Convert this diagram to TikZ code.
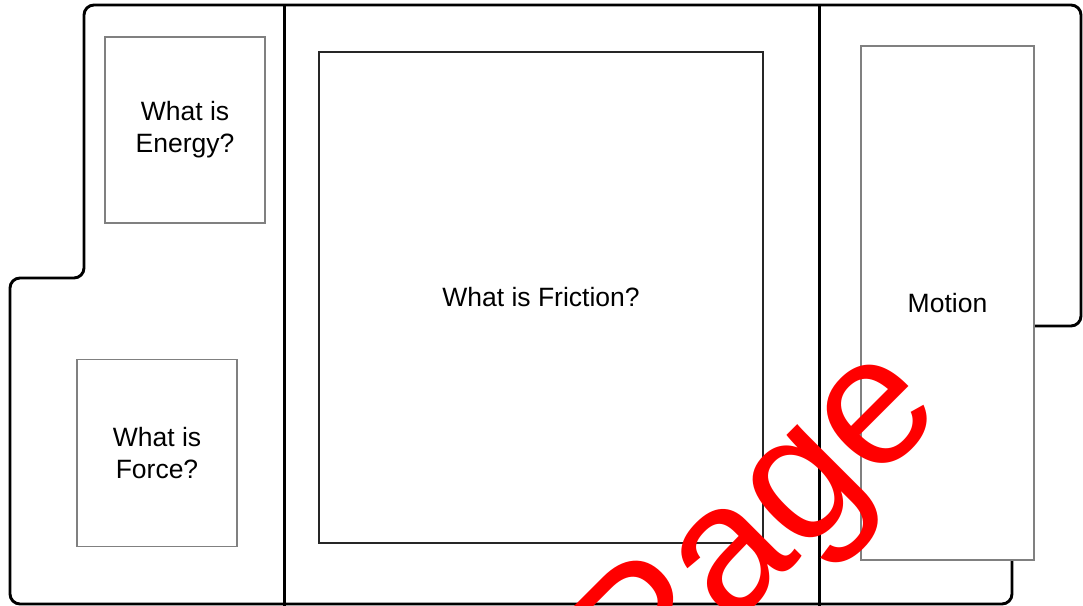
\documentclass[tikz,border=0pt]{standalone}
\usepackage{fontspec}
\setmainfont{Liberation Sans}
\begin{document}
\begin{tikzpicture}[x=1pt,y=-1pt,
  outline/.style={draw=black,line width=2.9pt,rounded corners=10pt},
  divider/.style={draw=black,line width=3pt},
  topicbox/.style={draw=black!50,line width=1.3pt,fill=white,inner sep=0pt,
    align=center,font=\fontsize{26.5}{32}\selectfont},
  bigbox/.style={draw=black!85,line width=1.1pt,fill=white,inner sep=0pt,
    align=center,font=\fontsize{26.5}{32}\selectfont},
  stamp/.style={text=red,inner sep=0pt,font=\fontsize{183}{183}\selectfont}]
\useasboundingbox (0,0) rectangle (1083,605);
\clip (0,0) rectangle (1083,605);
% outer outline
\draw[outline] (84,150) -- (84,5) -- (1081,5) -- (1081,326) -- (1012,326)
  -- (1012,604) -- (10,604) -- (10,278) -- (84,278) -- cycle;
% dividers
\coordinate (d1t) at (284,4);
\coordinate (d1b) at (284,606);
\coordinate (d2t) at (819,4);
\coordinate (d2b) at (819,606);
\draw[divider] (d1t) -- (d1b);
\draw[divider] (d2t) -- (d2b);
% boxes
\node[topicbox,minimum width=160pt,minimum height=186pt] (energy) at (185,130) {What is\\Energy?};
\node[topicbox,minimum width=160pt,minimum height=187pt] (force) at (157,453) {What is\\Force?};
\node[bigbox,minimum width=444pt,minimum height=491pt] (friction) at (541,297.5) {What is Friction?};
\node[topicbox,minimum width=173pt,minimum height=514pt] (motion) at (947.5,303) {Motion};
% stamp
\node[stamp,rotate=45,anchor=base east] (page) at (947,412) {Page};
\end{tikzpicture}
\end{document}
